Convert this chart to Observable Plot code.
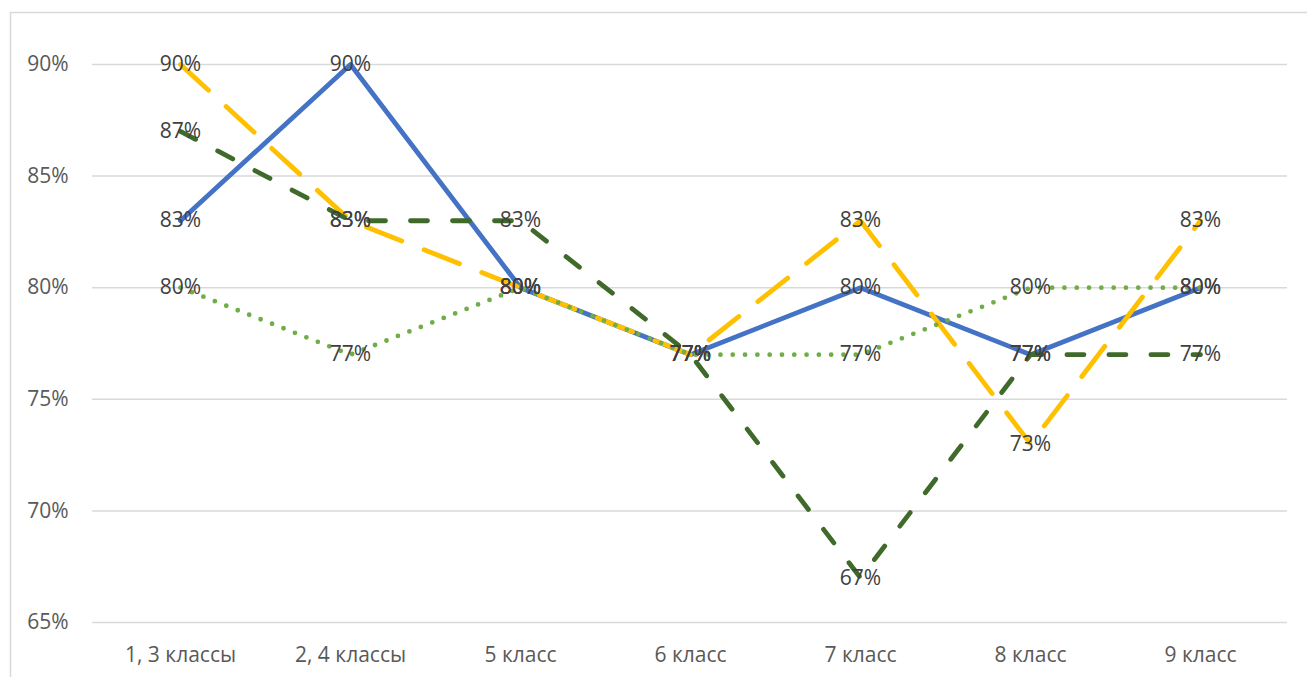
<!DOCTYPE html>
<html><head><meta charset="utf-8">
<script src="https://cdn.jsdelivr.net/npm/d3@7"></script>
<script src="https://cdn.jsdelivr.net/npm/@observablehq/plot@0.6"></script>
<style>body{margin:0;background:#fff;overflow:hidden}</style>
</head><body><div id="chart"></div>
<script>
const categories = ["1, 3 классы", "2, 4 классы", "5 класс", "6 класс", "7 класс", "8 класс", "9 класс"];
const seriesNames = ["Ряд 1", "Ряд 2", "Ряд 3", "Ряд 4"];
const blueValues = [83, 90, 80, 77, 80, 77, 80];
const yellowValues = [90, 83, 80, 77, 83, 73, 83];
const darkGreenValues = [87, 83, 83, 77, 67, 77, 77];
const lightGreenValues = [80, 77, 80, 77, 77, 80, 80];
const yTicks = [65, 70, 75, 80, 85, 90];

const allValues = [blueValues, yellowValues, darkGreenValues, lightGreenValues];
const data = allValues.flatMap((vals, si) => vals.map((v, i) => ({series: seriesNames[si], cat: categories[i], value: v})));
const bySeries = name => data.filter(d => d.series === name);

const lineStyles = [
  {stroke: "#4472C4", dash: null},
  {stroke: "#FFC000", dash: "38,24"},
  {stroke: "#3F6A2A", dash: "17,25"},
  {stroke: "#70AD47", dash: "0,12.3"}
];

const chart = Plot.plot({
  width: 1307,
  height: 677,
  marginLeft: 92,
  marginRight: 20,
  marginTop: 64,
  marginBottom: 55,
  style: {fontFamily: "'Open Sans', sans-serif", fontSize: "21px", color: "#595959", background: "#fff"},
  x: {type: "point", domain: categories, padding: 0.5, label: null},
  y: {domain: [65, 90], label: null},
  marks: [
    Plot.frame({stroke: "#d9d9d9", strokeWidth: 1.5, insetLeft: -82, insetTop: -52, insetRight: -40, insetBottom: -80}),
    Plot.gridY(yTicks, {stroke: "#d9d9d9", strokeOpacity: 1, strokeWidth: 1.5}),
    Plot.axisY(yTicks, {tickSize: 0, tickPadding: 24, tickFormat: d => d + "%", fontSize: 21, fill: "#595959", label: null}),
    Plot.axisX({tickSize: 0, tickPadding: 25, fontSize: 21, fill: "#595959", label: null}),
    ...seriesNames.map((name, si) => Plot.line(bySeries(name), {
      x: "cat", y: "value",
      stroke: lineStyles[si].stroke,
      strokeWidth: 4.8,
      strokeDasharray: lineStyles[si].dash,
      strokeLinecap: "round",
      strokeLinejoin: "round"
    })),
    Plot.text(data, {x: "cat", y: "value", text: d => d.value + "%", fill: "#404040", fontSize: 21, textAnchor: "middle"})
  ]
});
document.getElementById("chart").appendChild(chart);
</script>
</body></html>
